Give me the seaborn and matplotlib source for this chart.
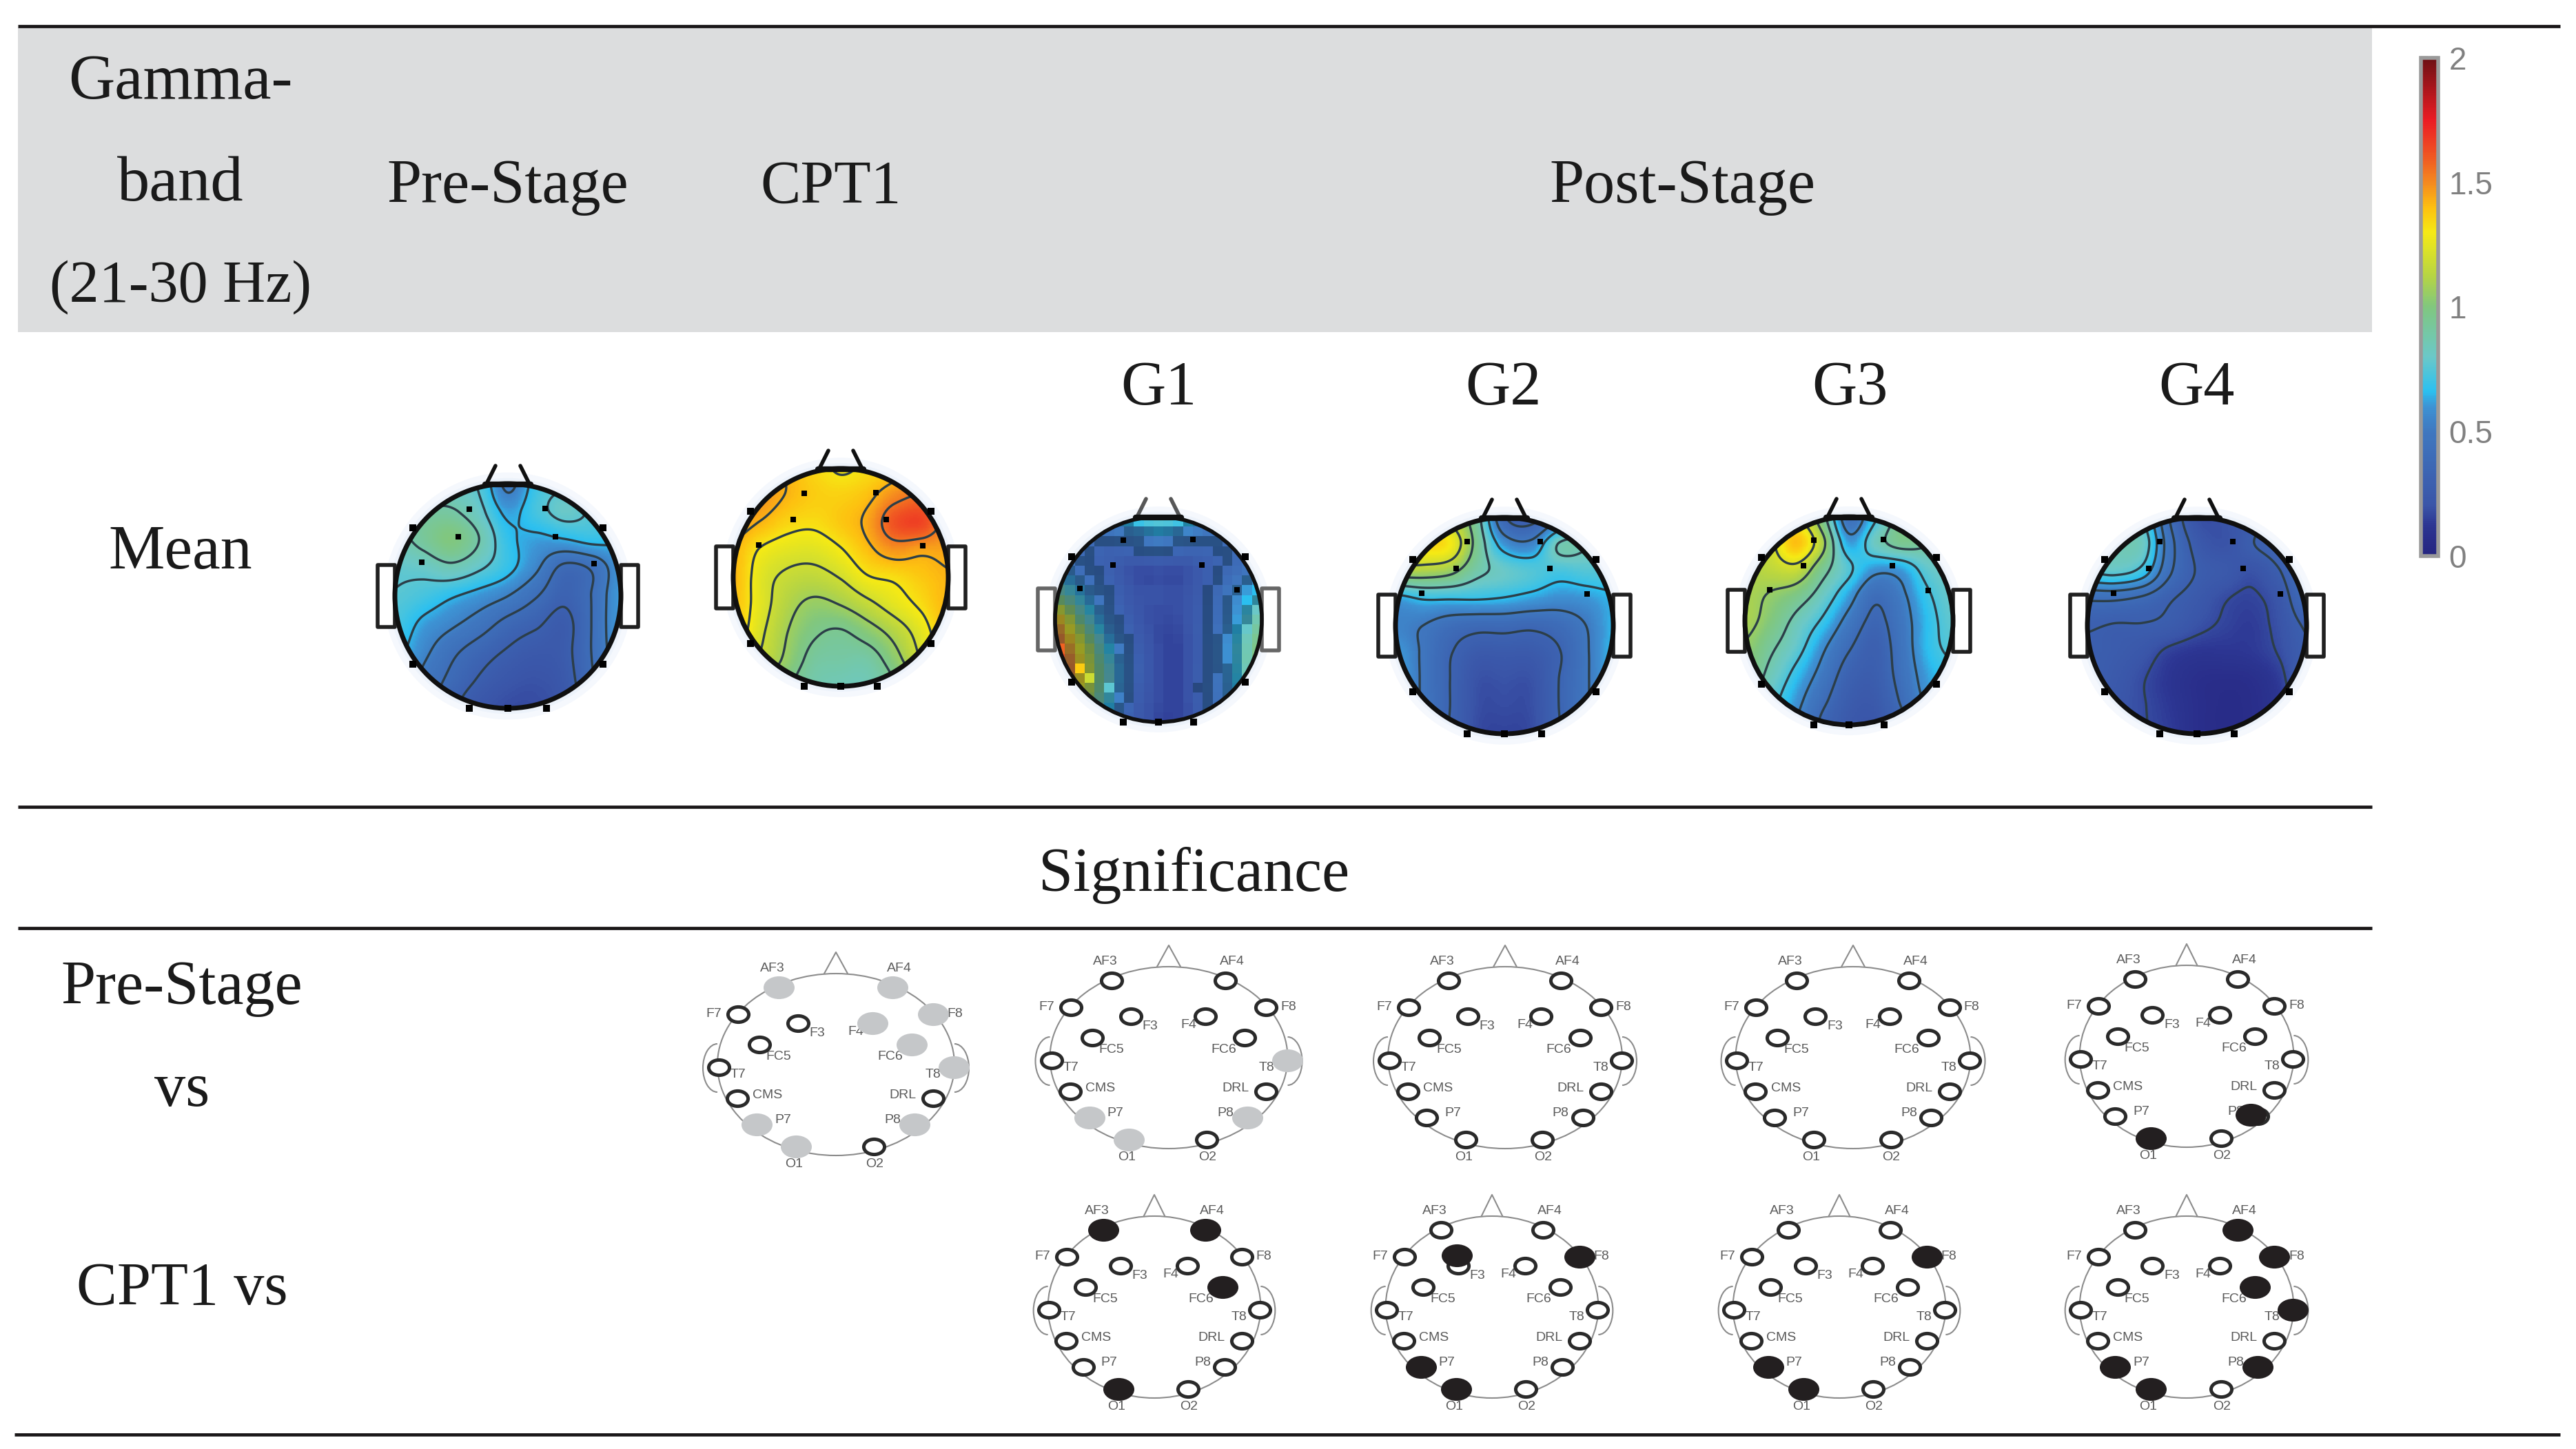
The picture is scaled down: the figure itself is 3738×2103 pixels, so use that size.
import numpy as np
import pandas as pd
import matplotlib
matplotlib.use("Agg")
import matplotlib.pyplot as plt
import seaborn as sns
from matplotlib.colors import LinearSegmentedColormap, ListedColormap
from matplotlib.markers import MarkerStyle
from matplotlib.patches import Arc, Ellipse, Rectangle
from matplotlib.path import Path
from matplotlib.transforms import Affine2D

sns.set_theme(style="white")
plt.rcParams["font.family"] = ["Liberation Serif", "DejaVu Serif"]

W, H = 3738, 2103

# ---------- topographic values (rows front to back, columns left to right) ----------
PRE = [[.80,.80,.80,.75,.50,.70,.75,.70,.70],
       [.90,.90,.90,.80,.62,.72,.80,.75,.70],
       [.85,.92,1.0,.88,.68,.62,.64,.68,.66],
       [.78,.80,.85,.78,.68,.55,.38,.43,.60],
       [.76,.72,.66,.60,.53,.42,.32,.42,.62],
       [.72,.62,.55,.47,.37,.31,.26,.42,.62],
       [.68,.56,.44,.35,.28,.24,.26,.42,.60],
       [.65,.50,.38,.28,.22,.20,.24,.40,.55],
       [.60,.48,.32,.22,.18,.18,.22,.35,.50]]
CPT1 = [[1.45,1.45,1.42,1.35,1.30,1.33,1.38,1.45,1.50],
        [1.48,1.48,1.42,1.37,1.36,1.40,1.50,1.55,1.50],
        [1.47,1.42,1.35,1.33,1.38,1.45,1.62,1.65,1.50],
        [1.42,1.30,1.25,1.24,1.30,1.40,1.48,1.45,1.45],
        [1.42,1.25,1.17,1.15,1.20,1.30,1.33,1.38,1.42],
        [1.40,1.25,1.12,1.05,1.08,1.16,1.25,1.33,1.42],
        [1.38,1.22,1.08,.98,.95,1.02,1.12,1.25,1.40],
        [1.30,1.18,1.05,.92,.90,.90,1.03,1.20,1.35],
        [1.20,1.10,.98,.88,.85,.85,.95,1.10,1.25]]
G1 = [[.60,.55,.60,.70,.78,.72,.60,.55,.60],
      [.50,.42,.35,.42,.50,.42,.38,.42,.50],
      [.60,.40,.30,.20,.20,.20,.30,.40,.55],
      [.95,.65,.38,.22,.20,.20,.32,.55,.70],
      [1.45,.95,.50,.25,.18,.20,.35,.60,.90],
      [1.60,1.25,.70,.32,.18,.18,.38,.70,1.0],
      [1.70,1.35,.85,.36,.18,.18,.38,.68,1.0],
      [1.50,1.25,.78,.32,.18,.18,.38,.62,.85],
      [1.30,1.10,.60,.28,.17,.17,.35,.55,.70]]
G2 = [[1.30,1.30,1.15,.90,.35,.28,.50,.80,.80],
      [1.35,1.35,1.30,.95,.60,.55,.85,.85,.80],
      [1.10,1.10,1.05,.88,.80,.75,.72,.75,.75],
      [.62,.68,.68,.68,.66,.62,.58,.60,.65],
      [.55,.50,.42,.38,.38,.36,.40,.50,.65],
      [.62,.48,.34,.25,.25,.25,.32,.48,.66],
      [.65,.48,.33,.20,.20,.20,.33,.48,.65],
      [.60,.48,.33,.19,.18,.19,.33,.48,.60],
      [.55,.45,.32,.18,.16,.18,.32,.45,.55]]
G3 = [[1.10,1.15,1.25,.95,.45,.70,.95,.90,.80],
      [1.10,1.20,1.40,1.10,.62,.82,.95,.90,.80],
      [1.10,1.15,1.18,.95,.75,.60,.62,.78,.82],
      [1.10,1.05,.98,.82,.62,.42,.52,.70,.80],
      [1.10,1.00,.85,.70,.50,.35,.48,.66,.78],
      [1.05,.92,.78,.58,.40,.30,.46,.66,.75],
      [1.00,.85,.68,.50,.32,.28,.44,.62,.70],
      [.95,.78,.60,.42,.27,.25,.40,.58,.65],
      [.88,.72,.55,.35,.24,.22,.35,.50,.60]]
G4 = [[.85,.82,.75,.40,.20,.20,.25,.35,.40],
      [.85,.85,.82,.45,.25,.20,.28,.35,.45],
      [.75,.78,.70,.42,.28,.24,.20,.28,.42],
      [.42,.42,.38,.30,.24,.18,.16,.22,.38],
      [.30,.28,.28,.26,.20,.16,.14,.20,.30],
      [.28,.26,.22,.15,.12,.12,.13,.18,.28],
      [.28,.24,.18,.12,.08,.07,.08,.14,.28],
      [.25,.22,.18,.13,.08,.06,.07,.12,.22],
      [.22,.20,.18,.14,.08,.06,.07,.12,.20]]

# ---------- significance ----------
SITE = ["AF3","AF4","F7","F8","F3","F4","FC5","FC6","T7","T8","CMS","DRL","P7","P8","O1","O2"]
SITE_X = [-83,82,-142,141,-55,53,-111,110,-170,171,-143,141,-115,114,-58,55]
SITE_Y = [-112,-112,-73,-73,-60,-60,-29,-29,4,4,49,49,87,87,119,119]
LABEL_DX = [-9,10,-35,32,28,-24,28,-31,28,-30,44,-44,38,-32,-3,1]
LABEL_DY = [-27,-27,0,0,15,13,17,17,10,10,-4,-4,-7,-7,26,26]

ROW_PRE_SIG = {"CPT1":["AF3","AF4","F8","F4","FC6","T8","P7","P8","O1"],
               "G1":["T8","P7","P8","O1"], "G2":[], "G3":[], "G4":["O1","P8"]}
ROW_CPT_SIG = {"G1":["AF3","AF4","FC6","O1"], "G2":["F3","F8","P7","O1"],
               "G3":["F8","P7","O1"], "G4":["AF4","F8","FC6","T8","P7","P8","O1"]}
CBAR_TICKS = [0, 0.5, 1, 1.5, 2]
CBAR_LABELS = ["0", "0.5", "1", "1.5", "2"]

cmap = LinearSegmentedColormap.from_list("topo", [
    (0.000,"#252580"),(0.060,"#2c3592"),(0.100,"#3a55a8"),(0.250,"#3f78c0"),(0.300,"#3d93d4"),
    (0.330,"#2bc0f0"),(0.400,"#6bc8c8"),(0.500,"#80c77f"),(0.560,"#b4d445"),
    (0.650,"#f5ea14"),(0.700,"#fdc010"),(0.750,"#f58a1f"),(0.800,"#f05a22"),
    (0.875,"#ec1c24"),(1.000,"#6e1014")])

fig = plt.figure(figsize=(W/100, H/100), dpi=100, facecolor="white")

def px_axes(x0, y0, x1, y1, z):
    return fig.add_axes([x0/W, 1-y1/H, (x1-x0)/W, (y1-y0)/H], zorder=z)

bg = px_axes(0, 0, W, H, 0)
fg = px_axes(0, 0, W, H, 5)
for a in (bg, fg):
    a.set_xlim(0, W); a.set_ylim(H, 0); a.axis("off"); a.set_autoscale_on(False)
    a.patch.set_alpha(0)

# band and rules
bg.add_patch(Rectangle((26, 40), 3416, 442, fc="#DCDDDE", ec="none"))
RK = dict(color="#1a1718", lw=3.4, solid_capstyle="butt")
fg.plot([26, 3715], [38, 38], **RK)
fg.plot([26, 3442], [1171, 1171], **RK)
fg.plot([26, 3442], [1347, 1347], **RK)
fg.plot([21, 3715], [2082, 2082], **RK)

# texts
TK = dict(color="#1a1a1a", ha="center", va="center")
for s, x, y, fs in [("Gamma-",262,121,67),("band",262,269,68),("(21-30 Hz)",262,417,62),
                    ("Pre-Stage",737,272,65),("CPT1",1206,272,63),("Post-Stage",2441,272,65),
                    ("G1",1681,565,65),("G2",2181,565,65),("G3",2684,565,65),("G4",3187,565,65),
                    ("Mean",262,803,66),("Significance",1733,1270,65),
                    ("Pre-Stage",264,1435,65),("vs",264,1583,65),("CPT1 vs",264,1871,63.5)]:
    fg.text(x, y, s, fontsize=fs, **TK)

def resample(n, m):
    src = np.linspace(0, 1, m)
    dst = (np.arange(n) + .5) / n
    t = np.abs(dst[:, None] - src[None, :]) * (m - 1)
    k = np.where(t < 1, 1.5*t**3 - 2.5*t**2 + 1,
                 np.where(t < 2, -.5*t**3 + 2.5*t**2 - 4*t + 2, 0))
    return k / k.sum(axis=1, keepdims=True)

def smooth(vals, n):
    v = np.array(vals, float)
    return resample(n, v.shape[0]) @ v @ resample(n, v.shape[1]).T

DOT_X = [-.34,-.44,.33,.42,-.76,.76]
DOT_Y = [-.775,-.53,-.78,-.53,-.30,-.29]
RIM_X = [-.84,.84,-.84,.84,-.34,.34,0]
RIM_Y = [-.61,-.61,.61,.61,1.0,1.0,1.0]

def head(vals, cx, cy, rx, ry, pixel=False, cbar_ax=None):
    for f, c in [(1.10,"#F5F8FD"),(1.05,"#EDF3FB")]:
        bg.add_patch(Ellipse((cx,cy), 2*rx*f, 2*ry*f, fc=c, ec="none"))
    ax = px_axes(cx-rx, cy-ry, cx+rx, cy+ry, 2)
    n = 21 if pixel else 170
    Z = smooth(vals, n)
    kw = dict(cmap=cmap, vmin=0, vmax=2, xticklabels=False, yticklabels=False, ax=ax)
    if cbar_ax is not None:
        sns.heatmap(pd.DataFrame(Z), cbar=True, cbar_ax=cbar_ax,
                    cbar_kws=dict(ticks=CBAR_TICKS), **kw)
    else:
        sns.heatmap(pd.DataFrame(Z), cbar=False, **kw)
    clip = Ellipse((.5,.5), 1, 1, transform=ax.transAxes)
    mesh = ax.collections[0]
    mesh.set_clip_path(clip)
    fine = smooth(vals, 170)
    yy, xx = np.mgrid[0:170, 0:170]
    ins = ((xx+.5)/170-.5)**2 + ((yy+.5)/170-.5)**2 < .25
    levels = np.linspace(fine[ins].min(), fine[ins].max(), 8)[1:-1]
    if pixel:
        band = np.digitize(Z, levels)
        cross = np.zeros_like(band, bool)
        cross[:-1,:] |= band[:-1,:] != band[1:,:]
        cross[:,:-1] |= band[:,:-1] != band[:,1:]
        sns.heatmap(pd.DataFrame(cross.astype(float)), mask=~cross, cbar=False, alpha=.4,
                    cmap=ListedColormap(["#0c2a3a"]), xticklabels=False, yticklabels=False, ax=ax)
        ax.collections[-1].set_clip_path(clip)
    else:
        X = (xx+.5)/170*n; Y = (yy+.5)/170*n
        cs = ax.contour(X, Y, fine, levels=levels, colors="#2c3e48", linewidths=2.4)
        cs.set_clip_path(clip)
    ax.axis("off")
    lw = 4.0 if pixel else 5.0
    col = "#101010"
    fg.add_patch(Ellipse((cx,cy), 2*rx, 2*ry, fc="none", ec=col, lw=lw, zorder=4))
    for sgn in (-1, 1):
        fg.add_patch(Rectangle((cx+sgn*rx-(25 if sgn<0 else 0), cy-45), 25, 90, fc="white",
                               ec="#202020" if not pixel else "#666666", lw=4, zorder=2, joinstyle="round"))
        fg.plot([cx+sgn*31, cx+sgn*18], [cy-ry, cy-ry-26], color=col, lw=4, solid_capstyle="round",
                alpha=.7 if pixel else 1)
    fg.plot([cx-33, cx+33], [cy-ry+1, cy-ry+1], color=col, lw=6)
    dots = pd.DataFrame({"x": cx+np.array(DOT_X)*rx, "y": cy+np.array(DOT_Y)*ry})
    sns.scatterplot(data=dots, x="x", y="y", ax=fg, s=36, marker="s", color="black",
                    linewidth=0, legend=False, zorder=5)
    rim = pd.DataFrame({"x": cx+np.array(RIM_X)*rx, "y": cy+np.array(RIM_Y)*ry})
    sns.scatterplot(data=rim, x="x", y="y", ax=fg, s=50, marker="s", color="black",
                    linewidth=0, legend=False, zorder=5)
    return mesh

cax = px_axes(3513, 84, 3538, 807, 3)
first_mesh = head(PRE, 737, 865, 164, 163, cbar_ax=cax)
head(CPT1, 1220, 838, 156, 158)
head(G1, 1681, 899, 150, 149, pixel=True)
head(G2, 2183, 908, 158, 157)
head(G3, 2683, 901, 151, 151)
head(G4, 3188, 908, 159, 157)

# colour bar
cb = first_mesh.colorbar
cb.outline.set_edgecolor("#9a9a9a"); cb.outline.set_linewidth(4)
cb.set_ticks(CBAR_TICKS, labels=CBAR_LABELS)
cb.ax.tick_params(axis="y", direction="in", length=7, width=3, color="#222222",
                  labelsize=33, labelcolor="#808080", pad=11, left=True, right=True)
for t in cb.ax.get_yticklabels():
    t.set_fontfamily("Liberation Sans")

OVAL = Path.unit_circle().transformed(Affine2D().scale(1.36, 1))
oval = MarkerStyle(OVAL)

def sig_panel(cx, cy, width, filled, colour, shift=None):
    shift = shift or {}
    sx = width / 341
    px = cx + np.array(SITE_X) * sx
    py = cy + np.array(SITE_Y)
    fg.add_patch(Ellipse((cx, cy), 2*172*sx, 2*132, fc="none", ec="#8c8c8c", lw=1.5, zorder=1))
    fg.plot([cx-17*sx, cx, cx+17*sx], [cy-132, cy-163, cy-132], color="#8c8c8c", lw=1.5)
    fg.add_patch(Arc((cx-172*sx, cy+5), 42, 70, theta1=90, theta2=270, ec="#8c8c8c", lw=1.5))
    fg.add_patch(Arc((cx+172*sx, cy+5), 42, 70, theta1=-90, theta2=90, ec="#8c8c8c", lw=1.5))
    hollow = pd.DataFrame({"site": SITE, "x": px, "y": py})
    hollow = hollow[(~hollow.site.isin(filled)) | hollow.site.isin(shift)]
    sns.scatterplot(data=hollow, x="x", y="y", ax=fg, marker=oval, s=470, color="white",
                    edgecolor="#2a2a2a", linewidth=3.6, legend=False, zorder=3)
    for i, s in enumerate(SITE):
        fg.text(px[i]+LABEL_DX[i], py[i]+LABEL_DY[i], s, fontsize=14, color="#5a5a5a",
                family="Liberation Sans", ha="center", va="center", zorder=2)
    if filled:
        fx = [px[SITE.index(s)] + shift.get(s,(0,0))[0] for s in filled]
        fy = [py[SITE.index(s)] + shift.get(s,(0,0))[1] for s in filled]
        sns.scatterplot(data=pd.DataFrame({"x":fx,"y":fy}), x="x", y="y", ax=fg, marker=oval,
                        s=1050, color=colour, linewidth=0, legend=False, zorder=4)

GREY, BLACK = "#C5C7C9", "#231F20"
sig_panel(1213, 1545, 341, ROW_PRE_SIG["CPT1"], GREY)
sig_panel(1696, 1535, 342, ROW_PRE_SIG["G1"], GREY)
sig_panel(2184, 1535, 337, ROW_PRE_SIG["G2"], BLACK)
sig_panel(2689, 1535, 338, ROW_PRE_SIG["G3"], BLACK)
sig_panel(3173, 1533, 308, ROW_PRE_SIG["G4"], BLACK, shift={"P8":(-10,-2)})
sig_panel(1675, 1897, 306, ROW_CPT_SIG["G1"], BLACK)
sig_panel(2165, 1897, 306, ROW_CPT_SIG["G2"], BLACK, shift={"F3":(-2,-15)})
sig_panel(2669, 1897, 306, ROW_CPT_SIG["G3"], BLACK)
sig_panel(3173, 1897, 308, ROW_CPT_SIG["G4"], BLACK)

for a in (bg, fg):
    a.set_xlim(0, W); a.set_ylim(H, 0)
fig.savefig("out.png", dpi=100)
